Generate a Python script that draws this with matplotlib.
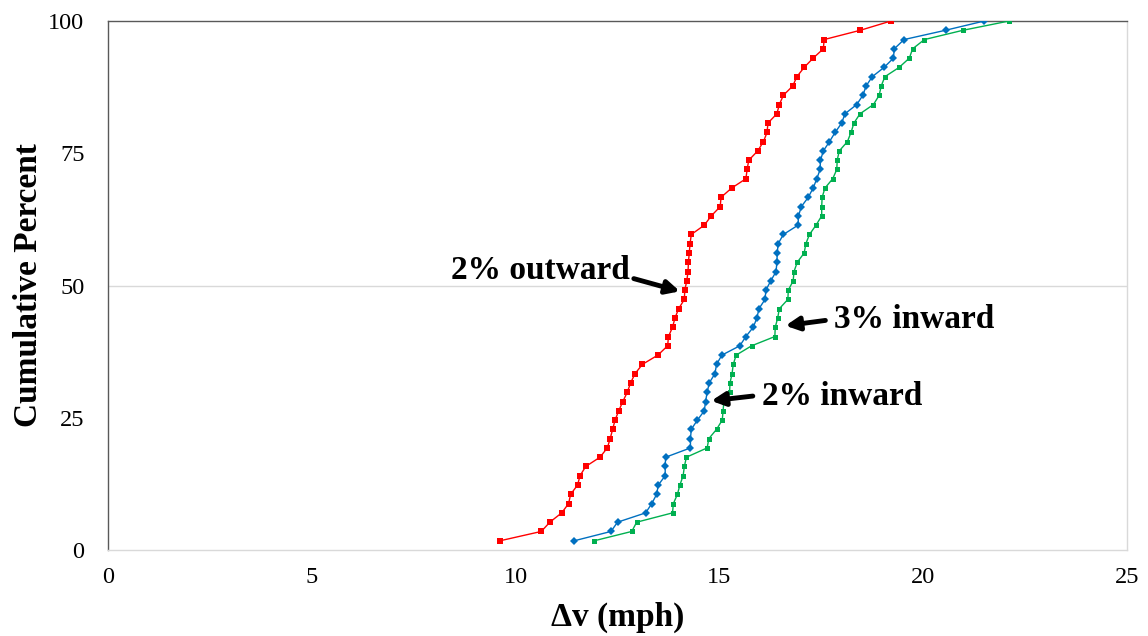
import matplotlib
matplotlib.use("Agg")
import matplotlib.pyplot as plt

plt.rcParams['font.family'] = ['Liberation Serif', 'DejaVu Serif']

# Delta-v values (mph), sorted, for each case
dv_outward_2 = [9.62, 10.63, 10.84, 11.13, 11.30, 11.35, 11.52, 11.58, 11.72, 12.07,
                12.25, 12.32, 12.38, 12.44, 12.53, 12.63, 12.74, 12.82, 12.93, 13.11,
                13.49, 13.73, 13.75, 13.85, 13.91, 14.00, 14.14, 14.15, 14.20, 14.23,
                14.24, 14.26, 14.28, 14.31, 14.63, 14.80, 15.02, 15.04, 15.30, 15.65,
                15.68, 15.72, 15.94, 16.08, 16.17, 16.19, 16.41, 16.47, 16.57, 16.80,
                16.90, 17.08, 17.30, 17.55, 17.57, 18.46, 19.21]
dv_inward_2 = [11.44, 12.34, 12.50, 13.19, 13.34, 13.46, 13.50, 13.67, 13.67, 13.68,
               14.29, 14.29, 14.31, 14.46, 14.63, 14.66, 14.70, 14.75, 14.89, 14.93,
               15.06, 15.50, 15.65, 15.83, 15.92, 15.97, 16.12, 16.14, 16.26, 16.39,
               16.41, 16.42, 16.44, 16.57, 16.93, 16.94, 17.01, 17.18, 17.30, 17.39,
               17.47, 17.48, 17.55, 17.70, 17.84, 18.00, 18.08, 18.37, 18.52, 18.60,
               18.75, 19.04, 19.27, 19.29, 19.53, 20.55, 21.50]
dv_inward_3 = [11.93, 12.85, 12.97, 13.85, 13.87, 13.97, 14.03, 14.11, 14.14, 14.19,
               14.70, 14.74, 14.93, 15.07, 15.09, 15.11, 15.25, 15.26, 15.31, 15.34,
               15.41, 15.79, 16.36, 16.37, 16.43, 16.47, 16.68, 16.69, 16.81, 16.83,
               16.91, 17.08, 17.12, 17.21, 17.37, 17.51, 17.51, 17.52, 17.59, 17.78,
               17.88, 17.89, 17.94, 18.14, 18.23, 18.30, 18.45, 18.78, 18.92, 18.97,
               19.06, 19.41, 19.66, 19.74, 20.03, 20.98, 22.11]

# Cumulative percent for each ranked value
cum_percent = [1.75, 3.51, 5.26, 7.02, 8.77, 10.53, 12.28, 14.04, 15.79, 17.54,
               19.30, 21.05, 22.81, 24.56, 26.32, 28.07, 29.82, 31.58, 33.33, 35.09,
               36.84, 38.60, 40.35, 42.11, 43.86, 45.61, 47.37, 49.12, 50.88, 52.63,
               54.39, 56.14, 57.89, 59.65, 61.40, 63.16, 64.91, 66.67, 68.42, 70.18,
               71.93, 73.68, 75.44, 77.19, 78.95, 80.70, 82.46, 84.21, 85.96, 87.72,
               89.47, 91.23, 92.98, 94.74, 96.49, 98.25, 100.0]

x_ticks = [0, 5, 10, 15, 20, 25]
y_ticks = [0, 25, 50, 75, 100]

fig = plt.figure(figsize=(11.48, 6.36), dpi=100)
ax = fig.add_axes([0.0941, 0.1352, 0.8876, 0.8318])

ax.plot(dv_outward_2, cum_percent, color='#FF0000', lw=1.0, marker='s',
        markersize=5, markeredgewidth=0, zorder=3)
ax.plot(dv_inward_2, cum_percent, color='#0070C0', lw=1.0, marker='D',
        markersize=3.8, markeredgewidth=0, zorder=3)
ax.plot(dv_inward_3, cum_percent, color='#00B050', lw=1.0, marker='s',
        markersize=3.6, markeredgewidth=0, zorder=3)

ax.set_xlim(0, 25)
ax.set_ylim(0, 100)
ax.set_xticks(x_ticks)
ax.set_yticks(y_ticks)
ax.tick_params(length=0, labelsize=17.5)
ax.tick_params(axis='x', pad=12)
ax.tick_params(axis='y', pad=17)

ax.axhline(50, color='#D9D9D9', lw=1.0, zorder=1)
ax.spines['left'].set_color('#595959')
ax.spines['top'].set_color('#595959')
ax.spines['right'].set_color('#D9D9D9')
ax.spines['bottom'].set_color('#D9D9D9')
for s in ax.spines.values():
    s.set_linewidth(1.0)

ax.set_xlabel('Δv (mph)', fontsize=24, fontweight='bold', labelpad=10)
ax.set_ylabel('Cumulative Percent', fontsize=24, fontweight='bold', labelpad=3)

arrow = dict(arrowstyle='-|>', lw=3.5, color='black', mutation_scale=20,
             shrinkA=0, shrinkB=0)

ax.text(8.42, 52.9, '2% outward', fontsize=24, fontweight='bold',
        ha='left', va='center')
ax.annotate('', xy=(14.03, 48.9), xytext=(12.90, 51.3), arrowprops=arrow)

ax.text(17.80, 43.5, '3% inward', fontsize=24, fontweight='bold',
        ha='left', va='center')
ax.annotate('', xy=(16.62, 42.4), xytext=(17.60, 43.4), arrowprops=arrow)

ax.text(16.05, 29.1, '2% inward', fontsize=24, fontweight='bold',
        ha='left', va='center')
ax.annotate('', xy=(14.80, 28.2), xytext=(15.82, 29.1), arrowprops=arrow)

fig.savefig('out.png', dpi=100)
